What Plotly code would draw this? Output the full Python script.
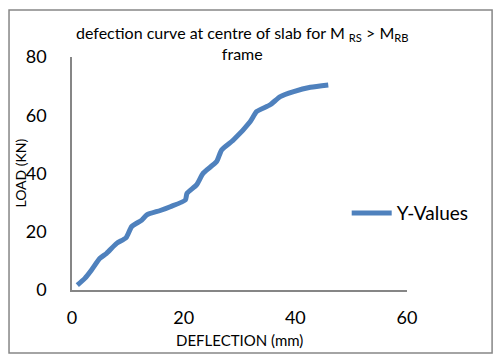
import plotly.graph_objects as go

deflection = [0.95, 2.3, 3.5, 5.0, 6.2, 8.0, 9.7, 10.7, 12.5, 13.4, 15.8, 17.6, 20.3, 20.6,
              22.3, 23.5, 25.9, 26.8, 28.9, 31.9, 33.1, 35.5, 37.3, 39.7, 42.7, 45.9]
load = [1.7, 4.0, 6.9, 10.9, 12.6, 16.0, 18.0, 21.8, 24.0, 25.8, 27.3, 28.6, 30.9, 33.2,
        36.1, 40.1, 44.1, 48.1, 51.5, 57.8, 61.3, 63.6, 66.4, 68.1, 69.6, 70.4]
series_name = "Y-Values"
x_ticks = [0, 20, 40, 60]
y_ticks = [0, 20, 40, 60, 80]

FONT = "Lato"
AX = "#868686"

fig = go.Figure()
fig.add_trace(go.Scatter(x=deflection, y=load, mode="lines", name=series_name,
                         line=dict(color="#4F81BD", width=5, shape="spline", smoothing=0.6)))

fig.update_layout(
    width=485, height=348,
    margin=dict(l=64, r=86, t=49, b=66),
    paper_bgcolor="white", plot_bgcolor="white",
    font=dict(family=FONT, color="black"),
    showlegend=True,
    legend=dict(x=0.82, y=0.33, xanchor="left", yanchor="middle",
                font=dict(size=19, family=FONT), bgcolor="rgba(0,0,0,0)",
                itemwidth=40),
    xaxis=dict(range=[0, 60], tickvals=x_ticks, showgrid=False, zeroline=False,
               showline=True, linecolor=AX, linewidth=1.5, ticks="",
               tickfont=dict(size=18), ticklabelstandoff=11),
    yaxis=dict(range=[0, 80], tickvals=y_ticks, showgrid=False, zeroline=False,
               showline=True, linecolor=AX, linewidth=1.5, ticks="",
               tickfont=dict(size=18), ticklabelstandoff=20),
    shapes=[dict(type="rect", xref="paper", yref="paper",
                 x0=-0.188, x1=1.254, y0=-0.270, y1=1.202,
                 line=dict(color=AX, width=1.5))],
    annotations=[
        dict(text="defection curve at centre of slab for M <sub>RS</sub> > M<sub>RB</sub><br>frame",
             xref="paper", yref="paper", x=0.51, y=1.06, showarrow=False,
             font=dict(size=16, family=FONT), xanchor="center", yanchor="middle"),
        dict(text="LOAD (KN)", xref="paper", yref="paper", x=-0.155, y=0.50,
             showarrow=False, textangle=-90, font=dict(size=14, family=FONT),
             xanchor="center", yanchor="middle"),
        dict(text="DEFLECTION (mm)", xref="paper", yref="paper", x=0.50, y=-0.215,
             showarrow=False, font=dict(size=15, family=FONT),
             xanchor="center", yanchor="middle"),
    ],
)

fig.write_html("out.html")
